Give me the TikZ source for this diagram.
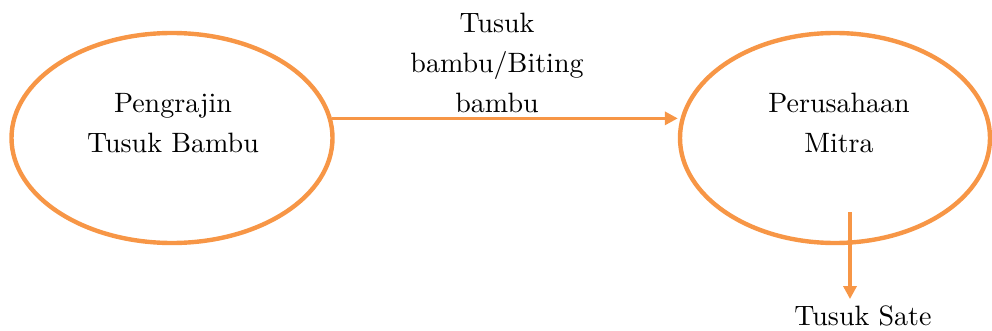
\documentclass[tikz,border=0pt]{standalone}
\usepackage{fontspec}
\setmainfont{lmroman10-regular.otf}
\usetikzlibrary{shapes.geometric,arrows.meta}
\definecolor{accorange}{HTML}{F79646}
\begin{document}
\begin{tikzpicture}[x=1pt,y=-1pt,
  oval/.style={ellipse,draw=accorange,line width=4.4pt,inner sep=0pt},
  lbl/.style={align=center,inner sep=0pt,anchor=base,font=\fontsize{28}{40}\selectfont},
  arr/.style={draw=accorange,line width=3.3pt,-{Triangle[length=13pt,width=13pt]}}]
\useasboundingbox (0,0) rectangle (992,331);
\node[oval,minimum width=321pt,minimum height=210pt] (L) at (172,138) {};
\node[oval,minimum width=310pt,minimum height=210pt] (R) at (835,138) {};
\node[lbl] (lt) at (173,153) {Pengrajin\\Tusuk Bambu};
\node[lbl] (rt) at (839,153) {Perusahaan\\Mitra};
\node[lbl] (mt) at (497,113) {Tusuk\\bambu/Biting\\bambu};
\node[lbl,inner sep=6pt] (S) at (863,325) {Tusuk Sate};
\coordinate (d) at (850,212);
\draw[arr] (L.7.6) -- (L.7.6 -| R.west);
\draw[arr] (d) -- (d |- S.north);
\end{tikzpicture}
\end{document}
